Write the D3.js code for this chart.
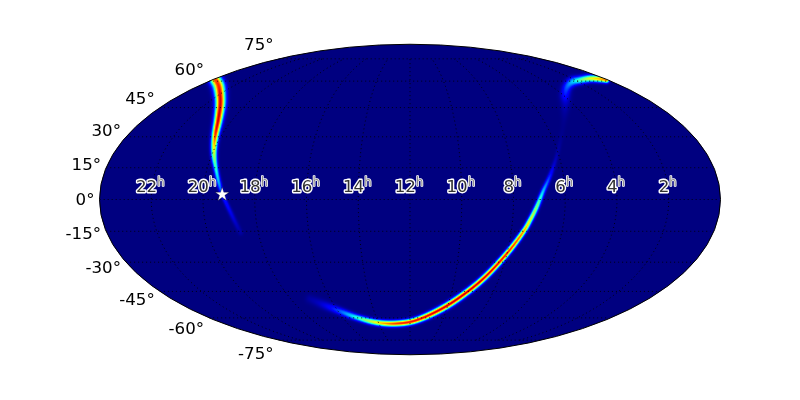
<!DOCTYPE html><html><head><meta charset="utf-8"><style>
html,body{margin:0;background:#fff;width:800px;height:400px;overflow:hidden}
canvas,svg{position:absolute;left:0;top:0}
text{font-family:"DejaVu Sans";}
</style></head><body>
<script src="https://d3js.org/d3.v7.min.js"></script>
<canvas id="c" width="800" height="400"></canvas>
<svg id="s" width="800" height="400"></svg>
<script>
// arc 1: right ascension (h), declination (deg), peak level, spread (deg)
const arc1Ra=[23.764,22.836,21.842,21.189,20.630,20.311,20.082,19.884,19.680,19.441,19.242,18.896,18.700];
const arc1Dec=[60.70,57.09,51.34,45.85,38.48,31.88,25.95,20.61,15.34,8.23,2.11,-8.23,-15.82];
const arc1Peak=[0.85,0.88,0.92,0.93,0.93,0.88,0.70,0.55,0.42,0.30,0.17,0.08,0.03];
const arc1Spread=[2.2,2.2,2.0,1.85,1.6,1.4,1.25,1.15,1.0,0.95,0.85,1.0,1.05];
// arc 2
const arc2Ra=[0.115,0.335,0.879,1.692,2.405,3.181,3.887,4.438,5.249,5.955,6.339,6.615,6.844,7.098,7.314,7.527,7.969,8.589,9.253,10.214,11.570,12.836,14.094,15.157,16.023,16.606,17.043];
const arc2Dec=[60.70,61.31,61.62,60.70,59.48,56.50,51.90,46.39,35.92,23.51,15.34,9.18,4.00,-3.53,-9.65,-15.34,-24.97,-36.43,-45.31,-54.18,-61.31,-63.50,-62.87,-59.78,-55.33,-51.90,-49.12];
const arc2Peak=[0.78,0.72,0.62,0.45,0.32,0.22,0.14,0.05,0.01,0.03,0.08,0.20,0.32,0.50,0.62,0.75,0.87,0.92,0.93,0.93,0.90,0.85,0.66,0.40,0.18,0.07,0.03];
const arc2Spread=[1.1,1.25,1.35,1.5,1.75,1.8,1.9,1.8,1.2,0.87,0.9,0.9,0.95,1.0,1.0,1.0,1.05,1.1,1.15,1.2,1.15,1.15,1.15,1.2,1.45,1.75,1.75];
const starRa=[19.262], starDec=[2.35];
const hourLabels=[22,20,18,16,14,12,10,8,6,4,2];
const parallels=[75,60,45,30,15,0,-15,-30,-45,-60,-75];
const meridians=[-150,-120,-90,-60,-30,0,30,60,90,120,150];

const W=800,H=400,cx=410,cy=199.5,ry=155.25,rx=2*ry;
function moll(l,p){let t=p;const k=Math.PI*Math.sin(p);for(let i=0;i<30&&Math.abs(p)<Math.PI/2-1e-9;i++){const d=(t+t+Math.sin(2*t)-k)/(2+2*Math.cos(2*t));t-=d;}
 if(Math.abs(p)>=Math.PI/2-1e-9)t=Math.sign(p)*Math.PI/2;
 return [2*Math.SQRT2/Math.PI*l*Math.cos(t),Math.SQRT2*Math.sin(t)];}
const proj=d3.geoProjection(moll).scale(ry/Math.SQRT2).translate([cx,cy]).precision(0.1);
const raLon=r=>(12-r)*15;
const P=(lon,lat)=>proj([lon,lat]);

// jet colormap
const jr=d3.scaleLinear([0,.35,.66,.89,1],[0,0,1,1,.5]).clamp(true);
const jg=d3.scaleLinear([0,.125,.375,.64,.91,1],[0,0,1,1,0,0]).clamp(true);
const jb=d3.scaleLinear([0,.11,.34,.65,1],[.5,1,1,0,0]).clamp(true);

function spline(a,b,c,d,t){return .5*(2*b+(c-a)*t+(2*a-5*b+4*c-d)*t*t+(3*b-a-3*c+d)*t*t*t);}
function dense(ra,dec,pk,sp){
 const k=1.722; const n=ra.length;
 const base=ra.map((r,i)=>{const q=P(raLon(r),dec[i]);return [q[0],q[1],pk[i],sp[i]*k];});
 const out=[];
 for(let i=0;i<n-1;i++){const a=base[Math.max(i-1,0)],b=base[i],c=base[i+1],d=base[Math.min(i+2,n-1)];
  const m=Math.ceil(Math.hypot(c[0]-b[0],c[1]-b[1])/0.25);
  for(let j=0;j<m;j++){const t=j/m;out.push([0,1,2,3].map(q=>spline(a[q],b[q],c[q],d[q],t)));}}
 out.push(base[n-1]);return out;}
const arcs=[dense(arc1Ra,arc1Dec,arc1Peak,arc1Spread),dense(arc2Ra,arc2Dec,arc2Peak,arc2Spread)];

const val=new Float32Array(W*H);
arcs.forEach(pts=>{pts.forEach(p=>{
 const R=Math.ceil(p[3]*3.5);
 for(let y=Math.max(0,Math.floor(p[1]-R));y<=Math.min(H-1,p[1]+R);y++)for(let x=Math.max(0,Math.floor(p[0]-R));x<=Math.min(W-1,p[0]+R);x++){
  const dx=x+.5-p[0],dy=y+.5-p[1];const v=p[2]*Math.exp(-(dx*dx+dy*dy)/(2*p[3]*p[3]));
  const id=y*W+x;if(v>val[id])val[id]=v;}
});});
const ctx=document.getElementById('c').getContext('2d');
const img=ctx.createImageData(W,H);
for(let i=0;i<W*H;i++){const v=val[i];img.data[4*i]=jr(v)*255;img.data[4*i+1]=jg(v)*255;img.data[4*i+2]=jb(v)*255;img.data[4*i+3]=255;}
const off=document.createElement('canvas');off.width=W;off.height=H;off.getContext('2d').putImageData(img,0,0);
ctx.save();ctx.beginPath();ctx.ellipse(cx,cy,rx,ry,0,0,2*Math.PI);ctx.clip();ctx.drawImage(off,0,0);ctx.restore();

const svg=d3.select('#s');
const line=d3.line();
const g=svg.append('g').attr('fill','none').attr('stroke','#000').attr('stroke-width',0.9).attr('stroke-dasharray','1,3');
parallels.forEach(lat=>g.append('path').attr('d',line(d3.range(-179.9,180,2).map(l=>P(l,lat)))));
meridians.forEach(lon=>g.append('path').attr('d',line(d3.range(-75,75.01,1).map(l=>P(lon,l)))));
svg.append('ellipse').attr('cx',cx).attr('cy',cy).attr('rx',rx).attr('ry',ry).attr('fill','none').attr('stroke','#000').attr('stroke-width',1);

// latitude tick labels
svg.append('g').selectAll('text').data(parallels).join('text')
 .attr('x',d=>P(-179.99,d)[0]-5)
 .attr('y',d=>P(-179.99,d)[1]-d*(d>0?0.195:0.172)+5.5)
 .attr('text-anchor','end').attr('font-size',16.67).attr('fill','#000').text(d=>d+'°');

// hour labels
const lab=svg.append('g').selectAll('text').data(hourLabels).join('text')
 .attr('x',d=>proj([raLon(d),0])[0]-1).attr('y',192).attr('text-anchor','middle').attr('font-size',16.67)
 .attr('fill','#333').attr('stroke','#fff').attr('stroke-width',2.8).attr('stroke-linejoin','round').attr('style','paint-order:stroke');
lab.append('tspan').text(d=>d);
lab.append('tspan').attr('dy',-6).attr('font-size',11.7).attr('fill','#888').attr('stroke-width',1.6).text('h');

const st=P(raLon(starRa[0]),starDec[0]);
svg.append('path').attr('transform',`translate(${st[0]},${st[1]})`).attr('d',d3.symbol(d3.symbolStar,60)()).attr('fill','#fff').attr('stroke','#000').attr('stroke-width',0.3);
</script></body></html>
